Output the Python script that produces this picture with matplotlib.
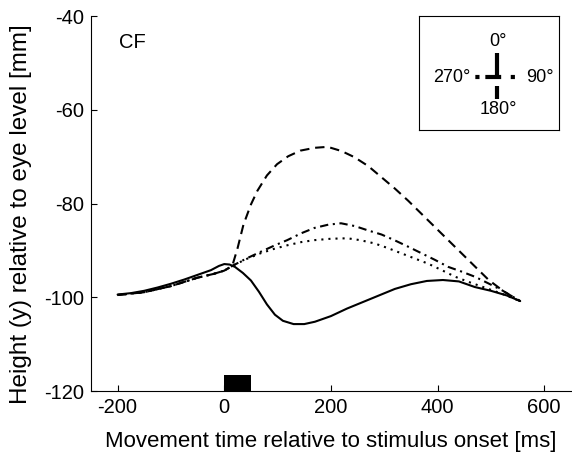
import matplotlib
matplotlib.use("Agg")
import matplotlib.pyplot as plt

plt.rcParams['font.family'] = ['Liberation Sans', 'DejaVu Sans']
plt.rcParams['axes.unicode_minus'] = False

# solid (0 deg)
t_solid = [-200, -175, -150, -125, -100, -75, -50, -25, -10, 0, 10, 20, 35, 50, 65, 80, 95,
           110, 130, 150, 170, 200, 230, 260, 290, 320, 350, 380, 410, 440, 470, 500, 530, 555]
y_solid = [-99.4, -99.1, -98.6, -97.9, -97.1, -96.2, -95.2, -94.2, -93.3, -92.9, -93.0, -93.5,
           -94.8, -96.4, -98.8, -101.5, -103.7, -105.0, -105.7, -105.7, -105.2, -104.0, -102.4,
           -101.0, -99.6, -98.2, -97.2, -96.5, -96.3, -96.6, -97.8, -98.6, -99.6, -100.8]

# shared start of the other three
t_pre = [-200, -150, -100, -50, -20, 0]
y_pre = [-99.5, -98.9, -97.6, -95.8, -95.0, -94.3]

# dashed (180 deg)
t_dash = [15, 25, 36, 50, 62, 80, 99, 120, 143, 170, 194, 220, 244, 270, 294, 320, 345, 370,
          395, 420, 445, 470, 496, 525, 555]
y_dash = [-93.3, -89.5, -84.5, -80.2, -77.3, -74.0, -71.6, -69.9, -68.7, -68.1, -67.9, -68.8,
          -70.1, -72.0, -74.3, -76.8, -79.4, -82.2, -85.0, -87.8, -90.6, -93.4, -96.3, -98.8, -100.8]

# dash-dot (270 deg)
t_dashdot = [15, 40, 68, 95, 118, 145, 169, 195, 219, 245, 269, 295, 319, 345, 370, 395, 420,
             445, 470, 495, 521, 555]
y_dashdot = [-93.3, -91.8, -90.3, -88.9, -87.8, -86.3, -85.2, -84.5, -84.2, -84.8, -85.7, -86.6,
             -87.8, -89.2, -90.6, -92.0, -93.5, -94.5, -95.6, -97.0, -98.5, -100.8]

# dotted (90 deg)
t_dot = [15, 40, 68, 95, 118, 145, 169, 200, 231, 255, 282, 307, 332, 357, 382, 408, 433, 458,
         483, 520, 555]
y_dot = [-93.3, -91.9, -90.6, -89.6, -88.9, -88.2, -87.8, -87.5, -87.4, -87.8, -88.5, -89.5,
         -90.6, -91.7, -92.8, -94.2, -95.6, -96.7, -97.7, -99.2, -100.8]

# stimulus bar
stim_start = 0
stim_dur = 50
stim_height = 3.4

fig = plt.figure(figsize=(5.72, 4.58), dpi=100)
ax = fig.add_axes([0.159, 0.146, 0.839, 0.819])

lw = 1.5
ax.plot(t_solid, y_solid, color='black', lw=lw, solid_capstyle='round')
ax.plot(t_pre + t_dash, y_pre + y_dash, color='black', lw=lw, dashes=(4.5, 2.8))
ax.plot(t_pre + t_dashdot, y_pre + y_dashdot, color='black', lw=lw, dashes=(4, 2.2, 1, 2.2))
ax.plot(t_pre + t_dot, y_pre + y_dot, color='black', lw=lw, dashes=(1, 2.4))

ax.bar(stim_start, stim_height, width=stim_dur, bottom=-120, align='edge', color='black')

ax.set_xlim(-250, 650)
ax.set_ylim(-120, -40)
ax.set_xticks([-200, 0, 200, 400, 600])
ax.set_yticks([-120, -100, -80, -60, -40])
ax.spines['top'].set_visible(False)
ax.spines['right'].set_visible(False)
ax.tick_params(direction='in', length=4, width=0.8, labelsize=14.5, pad=5)
ax.set_xlabel('Movement time relative to stimulus onset [ms]', fontsize=16)
ax.set_ylabel('Height (y) relative to eye level [mm]', fontsize=17.5)
ax.xaxis.set_label_coords(0.5, -0.105)
ax.yaxis.set_label_coords(-0.122, 0.472)
ax.text(0.058, 0.955, 'CF', transform=ax.transAxes, fontsize=14.5, va='top')

# direction key
key = fig.add_axes([419 / 572, 1 - 130 / 458, 140 / 572, 114 / 458])
key.set_xlim(0, 140)
key.set_ylim(0, 114)
key.set_xticks([])
key.set_yticks([])
for s in key.spines.values():
    s.set_linewidth(0.8)
cx, cy = 78, 53
key.plot([cx, cx], [cy, cy + 24], color='black', lw=3, solid_capstyle='butt')
key.plot([cx, cx], [cy - 9, cy - 22], color='black', lw=3, solid_capstyle='butt')
key.plot([cx, cx - 24], [cy, cy], color='black', lw=3, dashes=(2.8, 1.4, 1, 1.4), dash_capstyle='butt')
key.plot([cx, cx + 18], [cy, cy], color='black', lw=3, dashes=(1, 2.3), dash_capstyle='butt')
key.text(cx + 1, 88, '0°', fontsize=13, ha='center', va='center')
key.text(33, 52, '270°', fontsize=13, ha='center', va='center')
key.text(121, 52, '90°', fontsize=13, ha='center', va='center')
key.text(cx + 1, 20, '180°', fontsize=13, ha='center', va='center')

fig.savefig('out.png', dpi=100)
